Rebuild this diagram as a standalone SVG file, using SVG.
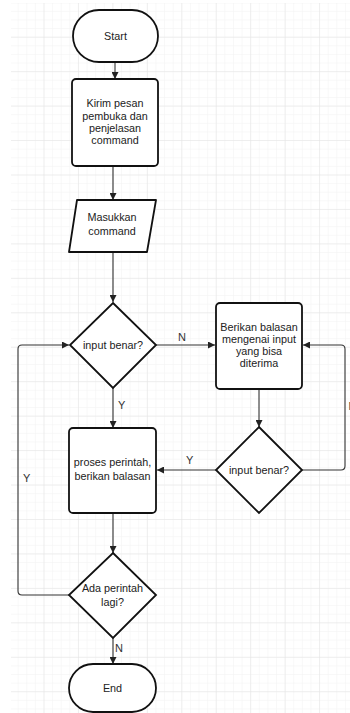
<svg xmlns="http://www.w3.org/2000/svg" width="350" height="713" viewBox="0 0 350 713">
<defs>
<pattern id="minor" x="9.05" y="2.25" width="8.6125" height="8.6125" patternUnits="userSpaceOnUse">
<path d="M0 0H8.6125M0 0V8.6125" fill="none" stroke="#f2f2f2" stroke-width="1"/>
</pattern>
<pattern id="major" x="9.05" y="2.25" width="34.45" height="34.45" patternUnits="userSpaceOnUse">
<path d="M0 0H34.45M0 0V34.45" fill="none" stroke="#e4e4e4" stroke-width="1"/>
</pattern>
<marker id="arr" viewBox="0 0 10 10" refX="10" refY="5" markerWidth="7" markerHeight="7" markerUnits="userSpaceOnUse" orient="auto">
<path d="M0 0L10 5L0 10Z" fill="#222"/>
</marker>
</defs>
<style>
.shape{fill:#fff;stroke:#111;stroke-width:1.8}
.t{font-family:"Liberation Sans",Arial,sans-serif;font-size:10.8px;fill:#222;text-anchor:middle}
.lbl{font-family:"Liberation Sans",Arial,sans-serif;font-size:11px;fill:#333}
.conn{fill:none;stroke:#333;stroke-width:1.1;marker-end:url(#arr)}
.line{fill:none;stroke:#333;stroke-width:1.1}
</style>
<rect x="0" y="0" width="350" height="713" fill="#fff"/>
<rect x="11" y="3" width="339" height="710" fill="url(#minor)"/>
<rect x="11" y="3" width="339" height="710" fill="url(#major)"/>

<g id="connectors">
<path class="conn" d="M115 62V79"/>
<path class="conn" d="M113 166V200"/>
<path class="conn" d="M113 252V302"/>
<path class="conn" d="M156 345H215"/>
<path class="conn" d="M259 389V427"/>
<path class="conn" d="M302 470H341Q345 470 345 466V349Q345 345 341 345H303"/>
<path class="conn" d="M216 470H157"/>
<path class="conn" d="M113 388V428"/>
<path class="conn" d="M113 513V553"/>
<path class="conn" d="M69 595H22Q18 595 18 591V349Q18 345 22 345H69"/>
<path class="conn" d="M113 638V664"/>
<text class="lbl" x="178" y="341">N</text>
<text class="lbl" x="118" y="409">Y</text>
<text class="lbl" x="186" y="464">Y</text>
<text class="lbl" x="23" y="482">Y</text>
<text class="lbl" x="115" y="652">N</text>
<text class="lbl" x="348.5" y="410" fill="#c87">N</text>
</g>

<g id="start">
<rect class="shape" x="73" y="10" width="85" height="52" rx="26" ry="26"/>
<text class="t" x="115.5" y="40">Start</text>
</g>

<g id="kirim">
<rect class="shape" x="72" y="79" width="86" height="87" rx="4"/>
<text class="t" x="115" y="107">Kirim pesan</text>
<text class="t" x="115" y="120">pembuka dan</text>
<text class="t" x="115" y="132">penjelasan</text>
<text class="t" x="115" y="144">command</text>
</g>

<g id="masukkan">
<path class="shape" d="M77 200H156L147 252H69Z" stroke-linejoin="round"/>
<text class="t" x="112" y="221">Masukkan</text>
<text class="t" x="112" y="235">command</text>
</g>

<g id="cek1">
<path class="shape" d="M113 303L156 345L113 388L70 345Z"/>
<text class="t" x="113" y="349">input benar?</text>
</g>

<g id="balasan">
<rect class="shape" x="216" y="303" width="86" height="86" rx="4"/>
<text class="t" x="259" y="331">Berikan balasan</text>
<text class="t" x="259" y="343">mengenai input</text>
<text class="t" x="259" y="355">yang bisa</text>
<text class="t" x="259" y="367">diterima</text>
</g>

<g id="cek2">
<path class="shape" d="M259 427L302 470L259 513L216 470Z"/>
<text class="t" x="259" y="474">input benar?</text>
</g>

<g id="proses">
<rect class="shape" x="69" y="428" width="87" height="85" rx="4"/>
<text class="t" x="112.5" y="466">proses perintah,</text>
<text class="t" x="112.5" y="480">berikan balasan</text>
</g>

<g id="lagi">
<path class="shape" d="M113 553L156 595L113 638L69 595Z"/>
<text class="t" x="112.5" y="592">Ada perintah</text>
<text class="t" x="112.5" y="606">lagi?</text>
</g>

<g id="end">
<rect class="shape" x="69" y="664" width="87" height="48" rx="24" ry="24"/>
<text class="t" x="112.5" y="692">End</text>
</g>
</svg>
